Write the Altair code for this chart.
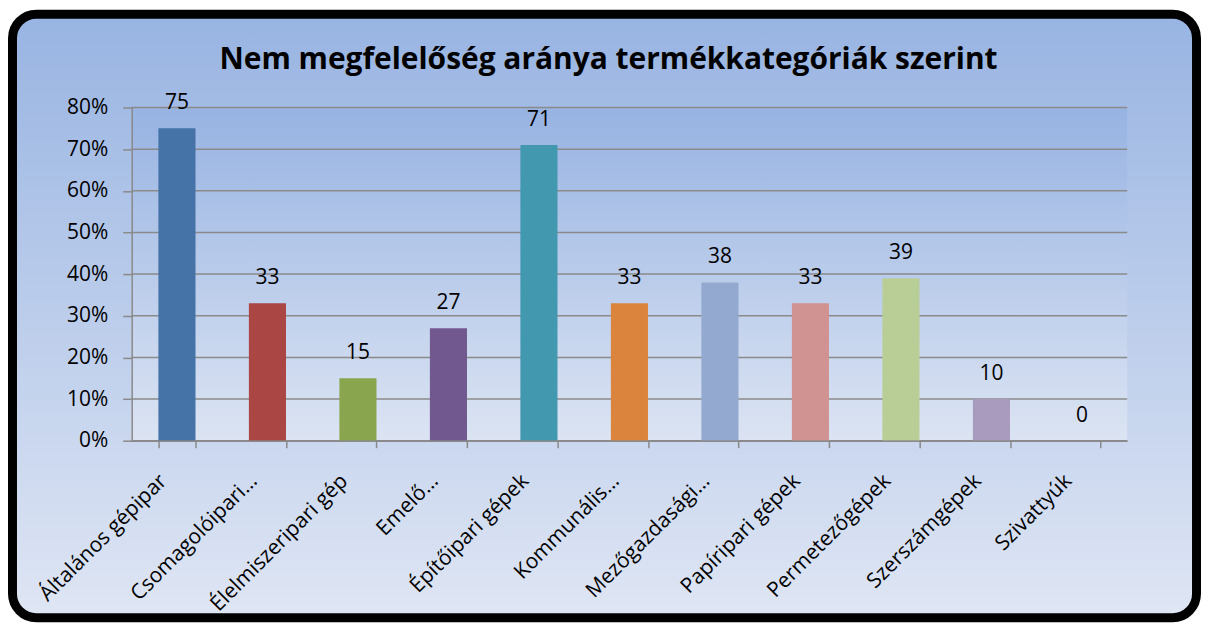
import altair as alt
import pandas as pd

CATEGORIES = ["Általános gépipar", "Csomagolóipari…", "Élelmiszeripari gép", "Emelő…",
              "Építőipari gépek", "Kommunális…", "Mezőgazdasági…", "Papíripari gépek",
              "Permetezőgépek", "Szerszámgépek", "Szivattyúk"]
VALUES = [75, 33, 15, 27, 71, 33, 38, 33, 39, 10, 0]
COLORS = ["#4572A7", "#AA4643", "#89A54E", "#71588F", "#4198AF", "#DB843D",
          "#93A9CF", "#D19392", "#B9CD96", "#A99BBD", "#8C8C8C"]
Y_TICKS = [0, 10, 20, 30, 40, 50, 60, 70, 80]
TITLE = "Nem megfelelőség aránya termékkategóriák szerint"

FONT = "Open Sans"
FS = 21
PW, PH = 998, 334
W, H = 1196, 616
PL, PT = 124, 99

df = pd.DataFrame({"cat": CATEGORIES, "val": VALUES, "lab": [str(v) for v in VALUES]})
one = alt.Data(values=[{"a": 1}])

outer_grad = alt.Gradient(gradient="linear", x1=0, y1=0, x2=0, y2=1,
                          stops=[alt.GradientStop(color="#98b4e2", offset=0),
                                 alt.GradientStop(color="#dfe6f4", offset=1)])
plot_grad = alt.Gradient(gradient="linear", x1=0, y1=0, x2=0, y2=1,
                         stops=[alt.GradientStop(color="#97b3e2", offset=0),
                                alt.GradientStop(color="#dce4f3", offset=1)])

outer = alt.Chart(one).mark_rect(fill=outer_grad, stroke="#000000", strokeWidth=9,
                                 cornerRadius=24).encode(
    x=alt.value(4.5 - PL), x2=alt.value(W - 4.5 - PL),
    y=alt.value(5.5 - PT), y2=alt.value(H - 5.5 - PT))

plotbg = alt.Chart(one).mark_rect(fill=plot_grad).encode(
    x=alt.value(0), x2=alt.value(PW), y=alt.value(0), y2=alt.value(PH))

title = alt.Chart(one).mark_text(text=TITLE, font=FONT, fontSize=30, fontWeight="bold",
                                 align="center", baseline="alphabetic", color="#000000").encode(
    x=alt.value(478), y=alt.value(-39))

yscale = alt.Scale(domain=[0, 80], nice=False)
xscale = alt.Scale(paddingInner=0.59, paddingOuter=0.295)

yaxis = alt.Axis(values=Y_TICKS, labelExpr="datum.value + '%'", grid=False,
                 labelFont=FONT, labelFontSize=FS, labelColor="#000000",
                 labelPadding=15, tickSize=9, tickColor="#8a8a8a", tickWidth=1.5,
                 domainColor="#8a8a8a", domainWidth=1.5, zindex=1)

grid = alt.Chart(pd.DataFrame({"v": Y_TICKS})).mark_rule(color="#8a8a8a", strokeWidth=1.5).encode(
    y=alt.Y("v:Q", scale=yscale, axis=yaxis, title=None))

base = alt.Chart(df)
bars = base.mark_bar().encode(
    x=alt.X("cat:N", sort=CATEGORIES, scale=xscale, title=None,
            axis=alt.Axis(labelAngle=-45, labelAlign="right", labelBaseline="middle",
                          labelFont=FONT, labelFontSize=FS, labelColor="#000000",
                          labelPadding=30, labelOffset=-14, tickBand="extent", tickSize=7,
                          tickColor="#8a8a8a", tickWidth=1.5, domainColor="#8a8a8a",
                          domainWidth=1.5, labelLimit=400, zindex=1)),
    y=alt.Y("val:Q", scale=yscale, title=None, axis=yaxis),
    color=alt.Color("cat:N", sort=CATEGORIES,
                    scale=alt.Scale(domain=CATEGORIES, range=COLORS), legend=None))

labels = base.mark_text(font=FONT, fontSize=FS, color="#000000", baseline="alphabetic",
                        dy=-19).encode(
    x=alt.X("cat:N", sort=CATEGORIES, scale=xscale),
    y=alt.Y("val:Q", scale=yscale),
    text="lab:N")

chart = alt.layer(outer, plotbg, title, grid, bars, labels).properties(
    width=PW, height=PH,
    autosize=alt.AutoSizeParams(type="none"),
    padding={"left": PL, "top": PT, "right": W - PL - PW, "bottom": H - PT - PH},
).configure_view(stroke=None)

chart.save("out.html", embed_options={"renderer": "svg", "actions": False})
